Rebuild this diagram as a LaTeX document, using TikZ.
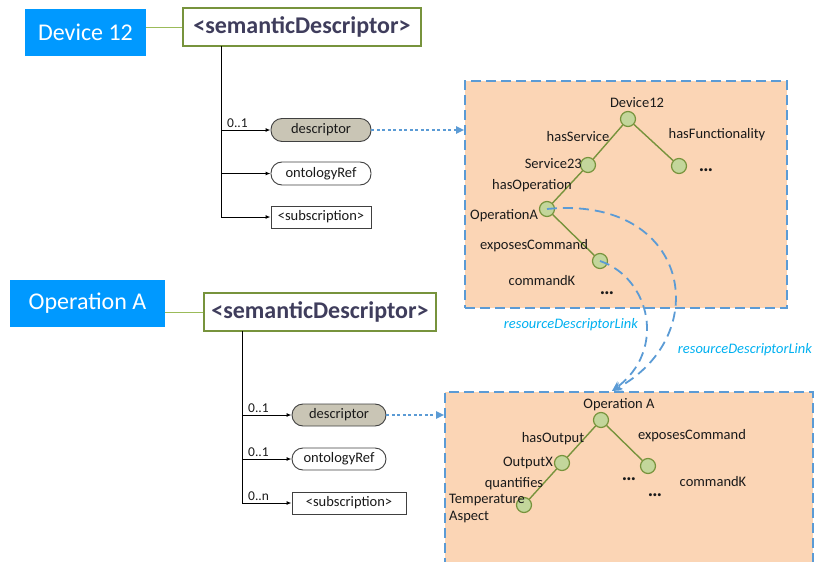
\documentclass[tikz,border=0pt]{standalone}
\usepackage{fontspec}
\setmainfont{Carlito}
\usetikzlibrary{arrows.meta,calc}
\definecolor{bluebox}{HTML}{0099FF}
\definecolor{sdgreen}{HTML}{77933C}
\definecolor{sdtext}{HTML}{3F3D5C}
\definecolor{descfill}{HTML}{C9C5B5}
\definecolor{kbfill}{HTML}{FBD5B5}
\definecolor{kbline}{HTML}{5B9BD5}
\definecolor{circfill}{HTML}{C3D69B}
\definecolor{linkcyan}{HTML}{00B0F0}
\definecolor{thingreen}{HTML}{9BBB59}
\definecolor{txt}{HTML}{1A1A1A}
\begin{document}
\begin{tikzpicture}[x=1pt,y=-1pt,
  resbox/.style={fill=bluebox, text=white, font=\fontsize{24}{28}\selectfont, inner sep=0pt},
  sdbox/.style={draw=sdgreen, line width=2pt, fill=white, text=sdtext, font=\bfseries\fontsize{24}{28}\selectfont, inner sep=0pt, minimum height=38pt},
  attrbox/.style={draw=black!75, line width=0.9pt, rounded corners=11pt, font=\fontsize{14.5}{17}\selectfont, text=txt, inner sep=0pt, minimum height=23pt},
  resattr/.style={draw=black!75, line width=0.9pt, font=\fontsize{14.5}{17}\selectfont, text=txt, inner sep=0pt, minimum height=22pt},
  card/.style={font=\fontsize{13.5}{16}\selectfont, text=txt, inner sep=0pt},
  kb/.style={fill=kbfill, draw=kbline, line width=1.6pt, dash pattern=on 10pt off 5pt, inner sep=0pt},
  tnode/.style={circle, minimum size=15pt, inner sep=0pt, fill=circfill, draw=sdgreen, line width=1.2pt},
  tlabel/.style={font=\fontsize{14.5}{17}\selectfont, text=txt, inner sep=0pt},
  dots/.style={font=\bfseries\fontsize{20}{22}\selectfont, text=txt, inner sep=0pt},
  tedge/.style={draw=sdgreen, line width=1.4pt},
  trunk/.style={draw=black, line width=1pt},
  branch/.style={draw=black, line width=1pt, -{Latex[length=5pt,width=4pt]}},
  thinconn/.style={draw=thingreen, line width=1pt},
  dotarrow/.style={draw=kbline, line width=1.8pt, dash pattern=on 3pt off 2.5pt, -{Triangle[length=8pt,width=7pt]}},
  linkline/.style={draw=kbline, line width=1.8pt, dash pattern=on 10pt off 6pt, -{Stealth[length=10pt,width=9pt]}},
  linklabel/.style={font=\itshape\fontsize{14.5}{17}\selectfont, text=linkcyan, inner sep=0pt}
]
\useasboundingbox (0,0) rectangle (815,562);
\clip (0,0) rectangle (815,562);

% ---------- upper resource ----------
\node[resbox, minimum width=121pt, minimum height=47pt] (dev12) at (85.5,32.5) {Device 12};
\node[sdbox, minimum width=238pt] (sd1) at (302,27) {<semanticDescriptor>};
\draw[thinconn] (sd1.west -| dev12.east) -- (sd1.west);

\node[attrbox, fill=descfill, minimum width=100pt] (desc1) at (321,130) {descriptor};
\node[attrbox, fill=white, minimum width=100pt] (ont1) at (321,173.5) {ontologyRef};
\node[resattr, fill=white, minimum width=100pt] (sub1) at (321,217) {<subscription>};
\coordinate (tr1) at (221,46);
\draw[trunk] (tr1) -- (tr1 |- sub1.west);
\draw[branch] (tr1) |- (desc1.west);
\draw[branch] (tr1) |- (ont1.west);
\draw[branch] (tr1) |- (sub1.west);
\node[card, anchor=south west] (card1) at (227,128) {0..1};

% upper knowledge box
\node[kb, minimum width=322pt, minimum height=227pt] (kb1) at (626,194.5) {};
\draw[dotarrow] (desc1.east) -- (desc1.east -| kb1.west);

\node[tnode] (cdev) at (628,119) {};
\node[tnode] (csrv) at (588,165) {};
\node[tnode] (cfun) at (679,166) {};
\node[tnode] (copa) at (547,209) {};
\node[tnode] (ccmd) at (600,261) {};
\draw[tedge] (cdev) -- (csrv);
\draw[tedge] (cdev) -- (cfun);
\draw[tedge] (csrv) -- (copa);
\draw[tedge] (copa) -- (ccmd);

\node[tlabel] (ldev) at (637,103) {Device12};
\node[tlabel] (lhs) at (578,137) {hasService};
\node[tlabel] (lhf) at (717,135) {hasFunctionality};
\node[tlabel, anchor=east] (lsrv) at (582,164) {Service23};
\node[dots] (dots1) at (706,170) {…};
\node[tlabel] (lho) at (532,186) {hasOperation};
\node[tlabel, anchor=west] (lopa) at (470,216) {OperationA};
\node[tlabel] (lec) at (534,246) {exposesCommand};
\node[tlabel] (lck) at (542,281) {commandK};
\node[dots] (dots2) at (607,293) {…};

% ---------- lower resource ----------
\node[resbox, minimum width=155pt, minimum height=47pt] (opa) at (87.5,303.5) {Operation A};
\node[sdbox, minimum width=232pt] (sd2) at (320,312) {<semanticDescriptor>};
\draw[thinconn] (sd2.west -| opa.east) -- (sd2.west);

\node[attrbox, fill=descfill, minimum width=94pt, minimum height=22pt] (desc2) at (339,415) {descriptor};
\node[attrbox, fill=white, minimum width=94pt, minimum height=22pt] (ont2) at (339,459) {ontologyRef};
\node[resattr, fill=white, minimum width=114pt] (sub2) at (349,503) {<subscription>};
\coordinate (tr2) at (242,331);
\draw[trunk] (tr2) -- (tr2 |- sub2.west);
\draw[branch] (tr2) |- (desc2.west);
\draw[branch] (tr2) |- (ont2.west);
\draw[branch] (tr2) |- (sub2.west);
\node[card, anchor=south west] (card2) at (248,413) {0..1};
\node[card, anchor=south west] (card3) at (248,457) {0..1};
\node[card, anchor=south west] (card4) at (248,501) {0..n};

% lower knowledge box
\node[kb, minimum width=368pt, minimum height=208pt] (kb2) at (629,496) {};
\draw[dotarrow] (desc2.east) -- (desc2.east -| kb2.west);

\node[tnode] (cop) at (601,420) {};
\node[tnode] (cout) at (562,463) {};
\node[tnode] (cexp) at (648,466) {};
\node[tnode] (ctemp) at (524,505) {};
\draw[tedge] (cop) -- (cout);
\draw[tedge] (cop) -- (cexp);
\draw[tedge] (cout) -- (ctemp);

\node[tlabel] (lop) at (619,405) {Operation A};
\node[tlabel] (lhout) at (553,439) {hasOutput};
\node[tlabel] (lexp) at (692,436) {exposesCommand};
\node[tlabel, anchor=east] (lout) at (553,463) {OutputX};
\node[tlabel] (lq) at (514,484) {quantifies};
\node[tlabel] (lck2) at (713,482) {commandK};
\node[dots] (dots3) at (629,479) {…};
\node[dots] (dots4) at (655,495) {…};
\node[tlabel, anchor=north west, align=left] (ltemp) at (449,494) {Temperature\\Aspect};

% ---------- links ----------
\coordinate (linkend) at (612,391);
\draw[linkline] (copa.center) .. controls (690,195) and (715,335) .. (linkend);
\draw[linkline] (ccmd.center) .. controls (650,278) and (667,350) .. (linkend);
\node[linklabel] (rdl1) at (571,325) {resourceDescriptorLink};
\node[linklabel] (rdl2) at (745,350) {resourceDescriptorLink};
\end{tikzpicture}
\end{document}
